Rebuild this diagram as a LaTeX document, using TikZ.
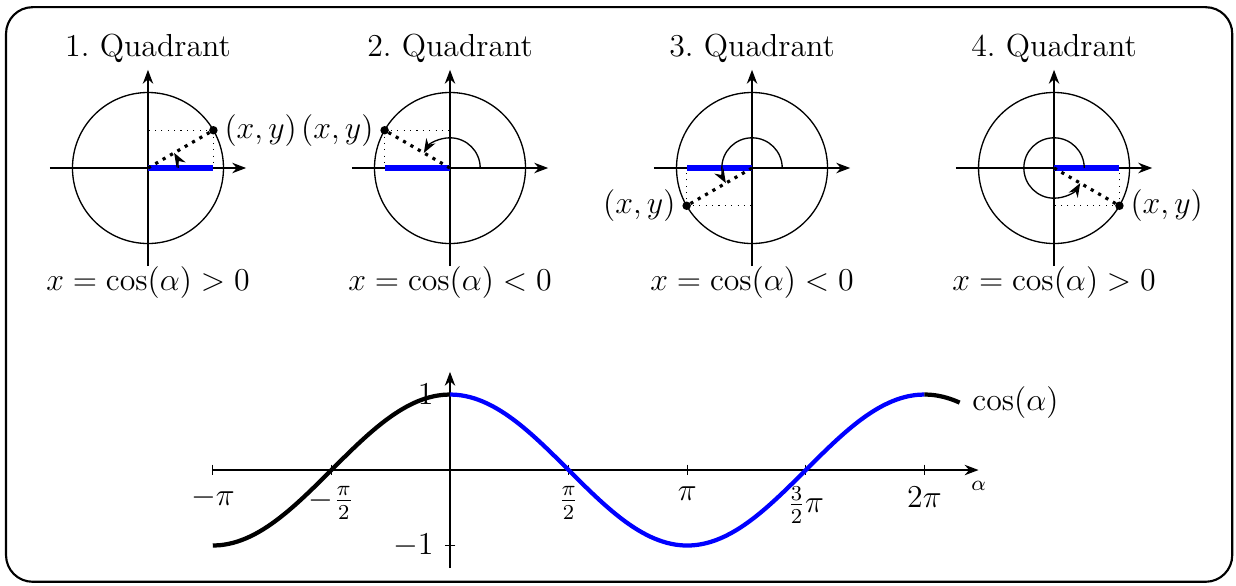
\documentclass[tikz,border=0pt,12pt]{standalone}
\usepackage{amsmath,amssymb}
\usepackage{tikz}
\usetikzlibrary{arrows.meta}
\frenchspacing
\tikzset{
  axis/.style={-Stealth, line width=0.5pt},
  unitcircle/.style={line width=0.5pt},
  proj/.style={dotted, line width=0.4pt},
  radline/.style={dotted, very thick},
  cosbar/.style={blue, line width=2pt},
  anglearc/.style={-Stealth, line width=0.5pt},
  curveblack/.style={black, ultra thick},
  curveblue/.style={blue, ultra thick},
  tick/.style={line width=0.5pt},
  frame/.style={thick, rounded corners=10pt},
}
\begin{document}
\begin{tikzpicture}
  \useasboundingbox (-1.96,2.225) rectangle (14.41,-5.536);
  \draw[frame] (-1.88,2.13) rectangle (14.36,-5.48);

  \foreach \q/\ang/\side/\rel in {1/30/right/>,2/150/left/<,3/210/left/<,4/330/right/>} {
    \begin{scope}[shift={({4*(\q-1)},0)}]
      \draw[axis] (-1.3,0) -- (1.3,0);
      \draw[axis] (0,-1.3) -- (0,1.3);
      \draw[unitcircle] (0,0) circle (1);
      \draw[proj] (\ang:1) -- ({cos(\ang)},0);
      \draw[proj] (\ang:1) -- (0,{sin(\ang)});
      \draw[cosbar] (0,0) -- ({cos(\ang)},0);
      \draw[radline] (0,0) -- (\ang:1);
      \draw[anglearc] (0.4,0) arc (0:\ang:0.4);
      \fill (\ang:1) circle (1.6pt) node[\side] (pt\q) {$(x,y)$};
      \node (title\q) at (0,1.58) {\q. Quadrant};
      \node (sign\q) at (0,-1.52) {$x=\cos(\alpha)\rel 0$};
    \end{scope}
  }

  \begin{scope}[shift={(4,-4)}]
    \draw[axis] (-pi,0) -- (7,0) node[below, font=\scriptsize] (alphalabel) {$\alpha$};
    \draw[axis] (0,-1.3) -- (0,1.3);
    \foreach \k/\lab in {-2/{$-\pi$}, -1/{$-\frac{\pi}{2}$}, 1/{$\frac{\pi}{2}$}, 2/{$\pi$}, 3/{$\frac{3}{2}\pi$}, 4/{$2\pi$}} {
      \draw[tick] ({\k*pi/2},0.07) -- ({\k*pi/2},-0.07) node[below] (xt\k) {\lab};
    }
    \draw[tick] (0.07,1) -- (-0.07,1) node[left] (yt1) {$1$};
    \draw[tick] (0.07,-1) -- (-0.07,-1) node[left] (ytm1) {$-1$};
    \draw[curveblack] plot[domain=-pi:0, samples=30, smooth, variable=\t] ({\t},{cos(\t r)});
    \draw[curveblue] plot[domain=0:2*pi, samples=60, smooth, variable=\t] ({\t},{cos(\t r)});
    \draw[curveblack] plot[domain=2*pi:6.75, samples=8, smooth, variable=\t] ({\t},{cos(\t r)})
      node[right] (coslabel) {$\cos(\alpha)$};
  \end{scope}
\end{tikzpicture}
\end{document}
